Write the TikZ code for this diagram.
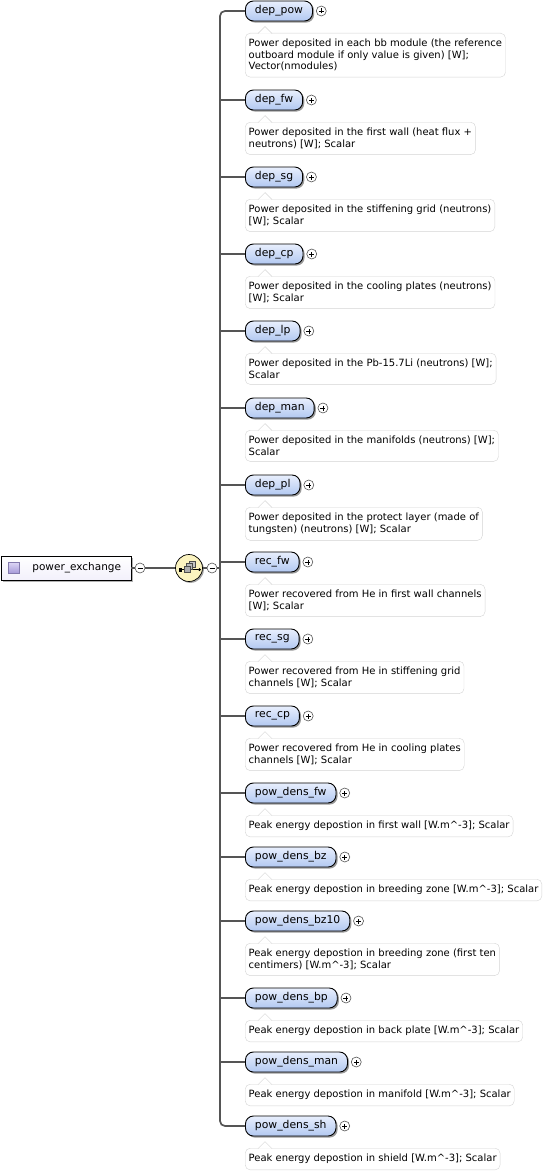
\documentclass[tikz,border=0pt]{standalone}
\usepackage{fontspec}
\setmainfont{DejaVu Sans}
\usepackage{tikz}
\usetikzlibrary{shadows}
\usetikzlibrary{calc}
\usetikzlibrary{positioning}

\definecolor{pillTop}{HTML}{E8EFFD}
\definecolor{pillBot}{HTML}{B2C8F1}
\definecolor{busGray}{HTML}{555555}
\definecolor{descLine}{HTML}{D4D4D4}
\definecolor{seqFill}{HTML}{FBF3BF}
\definecolor{iconTop}{HTML}{DCD5F4}
\definecolor{iconBot}{HTML}{A498D8}

\tikzset{
  elem/.style={draw=black, line width=0.9pt, rounded corners=8pt,
    top color=pillTop, bottom color=pillBot, anchor=west,
    minimum height=20pt, inner xsep=9.5pt, inner ysep=0pt,
    font=\fontsize{10.8}{12}\selectfont,
    drop shadow={shadow xshift=1.6pt, shadow yshift=-1.6pt, fill=gray!80, opacity=1}},
  desc/.style={draw=descLine, fill=white, rounded corners=5pt, anchor=north west,
    inner xsep=3.5pt, inner ysep=6pt, align=left,
    font=\fontsize{10}{11.5}\selectfont},
  expander/.style={circle, draw=busGray, fill=white, line width=0.6pt,
    minimum size=10pt, inner sep=0pt},
  plusbtn/.style={expander, right=3pt of #1,
    path picture={\draw[black, line width=0.6pt]
      ([xshift=-2.5pt]path picture bounding box.center) -- ([xshift=2.5pt]path picture bounding box.center)
      ([yshift=-2.5pt]path picture bounding box.center) -- ([yshift=2.5pt]path picture bounding box.center);}},
  minusbtn/.style={expander,
    path picture={\draw[black, line width=0.6pt]
      ([xshift=-2.5pt]path picture bounding box.center) -- ([xshift=2.5pt]path picture bounding box.center);}},
  bus/.style={draw=busGray, line width=1.7pt},
  notch/.style={draw=descLine, fill=white, line width=0.5pt}
}

\begin{document}
\begin{tikzpicture}[x=1pt, y=-1pt]
  \useasboundingbox (0,0) rectangle (554,1172);

  % root element
  \node[draw=black, line width=0.8pt, anchor=west, minimum height=24pt, inner xsep=10pt,
        top color=white, bottom color=iconTop!35, font=\fontsize{10.5}{12}\selectfont,
        drop shadow={shadow xshift=1.6pt, shadow yshift=-1.6pt, fill=gray!60, opacity=1}]
    (root) at (1,568) {\hspace{21pt}power\_exchange};
  \node[draw=iconBot!80!black, line width=0.6pt, top color=iconTop, bottom color=iconBot,
        minimum size=11pt, inner sep=0pt] (rooticon) at (14,568) {};
  \node[minusbtn] (m1) at (140,568) {};

  % sequence compositor
  \node[circle, draw=black, line width=0.7pt, fill=seqFill, minimum size=27pt, inner sep=0pt,
        drop shadow={shadow xshift=1.4pt, shadow yshift=-1.4pt, fill=gray!70, opacity=1}]
    (seq) at (189,568) {};
  \begin{scope}[shift={(seq.center)}]
    \draw[black, line width=0.8pt] (-8,1.5) -- (9,1.5);
    \fill[black] (-10,-0.5) rectangle (-7,3.5);
    \fill[black] (10.5,1.5) circle (1.5);
    \draw[black!70, fill=gray!45, line width=0.5pt] (0,-7) rectangle (6,-1);
    \draw[black!70, fill=gray!55, line width=0.5pt] (-2.5,-4.5) rectangle (3.5,1.5);
    \draw[black!70, fill=gray!65, line width=0.5pt] (-5,-2) rectangle (1,4);
  \end{scope}
  \node[minusbtn] (m2) at (212,568) {};
  \coordinate (busx) at (220,568);

  % child elements
  \node[elem] (dpow) at (245,11) {dep\_pow};
  \node[desc] (dpowtxt) at (245,33) {Power deposited in each bb module (the reference\\outboard module if only value is given) [W];\\Vector(nmodules)};
  \node[elem] (dfw) at (245,100) {dep\_fw};
  \node[desc] (dfwtxt) at (245,122) {Power deposited in the first wall (heat flux +\\neutrons) [W]; Scalar};
  \node[elem] (dsg) at (245,177) {dep\_sg};
  \node[desc] (dsgtxt) at (245,199) {Power deposited in the stiffening grid (neutrons)\\[0pt][W]; Scalar};
  \node[elem] (dcp) at (245,254) {dep\_cp};
  \node[desc] (dcptxt) at (245,276) {Power deposited in the cooling plates (neutrons)\\[0pt][W]; Scalar};
  \node[elem] (dlp) at (245,331) {dep\_lp};
  \node[desc] (dlptxt) at (245,353) {Power deposited in the Pb-15.7Li (neutrons) [W];\\Scalar};
  \node[elem] (dman) at (245,408) {dep\_man};
  \node[desc] (dmantxt) at (245,430) {Power deposited in the manifolds (neutrons) [W];\\Scalar};
  \node[elem] (dpl) at (245,485) {dep\_pl};
  \node[desc] (dpltxt) at (245,507) {Power deposited in the protect layer (made of\\tungsten) (neutrons) [W]; Scalar};
  \node[elem] (rfw) at (245,562) {rec\_fw};
  \node[desc] (rfwtxt) at (245,584) {Power recovered from He in first wall channels\\[0pt][W]; Scalar};
  \node[elem] (rsg) at (245,639) {rec\_sg};
  \node[desc] (rsgtxt) at (245,661) {Power recovered from He in stiffening grid\\channels [W]; Scalar};
  \node[elem] (rcp) at (245,716) {rec\_cp};
  \node[desc] (rcptxt) at (245,738) {Power recovered from He in cooling plates\\channels [W]; Scalar};
  \node[elem] (pfw) at (245,793) {pow\_dens\_fw};
  \node[desc] (pfwtxt) at (245,815) {Peak energy depostion in first wall [W.m\textasciicircum-3]; Scalar};
  \node[elem] (pbz) at (245,857) {pow\_dens\_bz};
  \node[desc] (pbztxt) at (245,879) {Peak energy depostion in breeding zone [W.m\textasciicircum-3]; Scalar};
  \node[elem] (pbzten) at (245,921) {pow\_dens\_bz10};
  \node[desc] (pbztentxt) at (245,943) {Peak energy depostion in breeding zone (first ten\\centimers) [W.m\textasciicircum-3]; Scalar};
  \node[elem] (pbp) at (245,998) {pow\_dens\_bp};
  \node[desc] (pbptxt) at (245,1020) {Peak energy depostion in back plate [W.m\textasciicircum-3]; Scalar};
  \node[elem] (pman) at (245,1062) {pow\_dens\_man};
  \node[desc] (pmantxt) at (245,1084) {Peak energy depostion in manifold [W.m\textasciicircum-3]; Scalar};
  \node[elem] (psh) at (245,1126) {pow\_dens\_sh};
  \node[desc] (pshtxt) at (245,1148) {Peak energy depostion in shield [W.m\textasciicircum-3]; Scalar};

  % expand buttons
  \foreach \n in {dpow,dfw,dsg,dcp,dlp,dman,dpl,rfw,rsg,rcp,pfw,pbz,pbzten,pbp,pman,psh}
    \node[plusbtn=\n] (\n plus) {};

  % tabs of the annotation boxes
  \foreach \d in {dpowtxt,dfwtxt,dsgtxt,dcptxt,dlptxt,dmantxt,dpltxt,rfwtxt,rsgtxt,rcptxt,pfwtxt,pbztxt,pbztentxt,pbptxt,pmantxt,pshtxt}
    \path[notch] ([xshift=13pt,yshift=-0.6pt]\d.north west) -- ++(7,-7) -- ++(7,7);

  % connectors
  \path[bus] (root) edge (m1);
  \path[bus] (m1) edge (seq);
  \path[bus] (seq) edge (m2);
  \path[bus] (m2) edge (busx);
  \draw[bus, rounded corners=5pt] (dpow.west) -| (busx) |- (psh.west);
  \foreach \n in {dfw,dsg,dcp,dlp,dman,dpl,rfw,rsg,rcp,pfw,pbz,pbzten,pbp,pman}
    \draw[bus] (busx |- \n.west) -- (\n.west);
\end{tikzpicture}
\end{document}
